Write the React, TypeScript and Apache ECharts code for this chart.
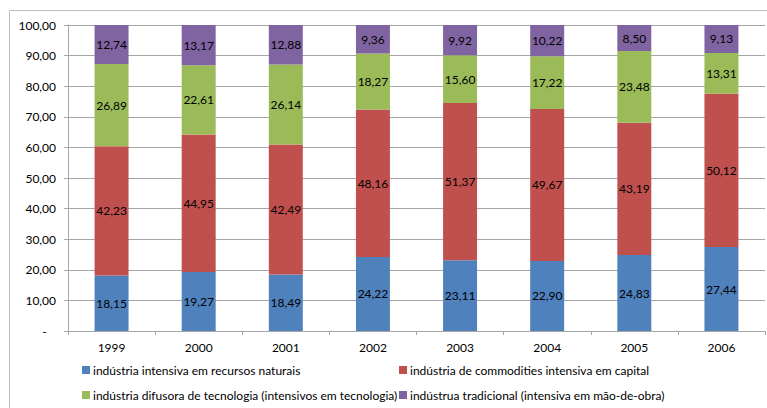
import React, { useEffect, useRef } from "react";
import * as echarts from "echarts";

const years = ["1999", "2000", "2001", "2002", "2003", "2004", "2005", "2006"];
const recursosNaturais = [18.15, 19.27, 18.49, 24.22, 23.11, 22.9, 24.83, 27.44];
const commodities = [42.23, 44.95, 42.49, 48.16, 51.37, 49.67, 43.19, 50.12];
const difusora = [26.89, 22.61, 26.14, 18.27, 15.6, 17.22, 23.48, 13.31];
const tradicional = [12.74, 13.17, 12.88, 9.36, 9.92, 10.22, 8.5, 9.13];

const seriesNames = [
  "indústria intensiva em recursos naturais",
  "indústria de commodities intensiva em capital",
  "indústria difusora de tecnologia (intensivos em tecnologia)",
  "indústrua tradicional (intensiva em mão-de-obra)",
];
const colors = ["#4F81BD", "#C0504D", "#9BBB59", "#8064A2"];

const FONT = "Lato, 'Open Sans', sans-serif";
const fmt = (v: number) => v.toFixed(2).replace(".", ",");

export default function App() {
  const ref = useRef<HTMLDivElement>(null);

  useEffect(() => {
    if (!ref.current) return;
    const chart = echarts.init(ref.current, undefined, { renderer: "svg" });
    const dataSets = [recursosNaturais, commodities, difusora, tradicional];
    const legendPos = [
      { left: 82, top: 364 },
      { left: 399, top: 364 },
      { left: 82, top: 389 },
      { left: 399, top: 389 },
    ];
    chart.setOption({
      animation: false,
      backgroundColor: "#ffffff",
      textStyle: { fontFamily: FONT },
      graphic: [
        {
          type: "rect",
          shape: { x: 9.5, y: 10.5, width: 800, height: 450 },
          style: { fill: "none", stroke: "#BDBDBD", lineWidth: 1 },
          silent: true,
        },
      ],
      legend: seriesNames.map((name, i) => ({
        data: [name],
        left: legendPos[i].left,
        top: legendPos[i].top,
        orient: "horizontal",
        itemWidth: 8,
        itemHeight: 8,
        itemGap: 4,
        icon: "rect",
        padding: 0,
        selectedMode: false,
        textStyle: { fontFamily: FONT, fontSize: 12, color: "#000", padding: [0, 0, 0, -2] },
      })),
      grid: { left: 68, right: 2, top: 25, bottom: 77, containLabel: false },
      xAxis: {
        type: "category",
        data: years,
        axisLine: { lineStyle: { color: "#A6A6A6" } },
        axisTick: { show: true, length: 4, alignWithLabel: false, lineStyle: { color: "#A6A6A6" } },
        axisLabel: { color: "#000", fontSize: 12, fontFamily: FONT, margin: 10 },
      },
      yAxis: {
        type: "value",
        min: 0,
        max: 100,
        interval: 10,
        axisLine: { show: true, lineStyle: { color: "#A6A6A6" } },
        axisTick: { show: true, length: 4, lineStyle: { color: "#A6A6A6" } },
        splitLine: { lineStyle: { color: "#A6A6A6" } },
        axisLabel: {
          color: "#000",
          fontSize: 12,
          fontFamily: FONT,
          margin: 12,
          formatter: (v: number) => (v === 0 ? "-   " : fmt(v)),
        },
      },
      series: seriesNames.map((name, i) => ({
        name,
        type: "bar",
        stack: "total",
        barWidth: "39%",
        data: dataSets[i],
        itemStyle: { color: colors[i] },
        label: {
          show: true,
          position: "inside",
          color: "#000",
          fontSize: 12,
          fontFamily: FONT,
          formatter: (p: any) => fmt(p.value),
        },
      })),
    });
    return () => chart.dispose();
  }, []);

  return (
    <div
      ref={ref}
      style={{ position: "fixed", left: 0, top: 0, width: 767, height: 408, background: "#fff" }}
    />
  );
}
